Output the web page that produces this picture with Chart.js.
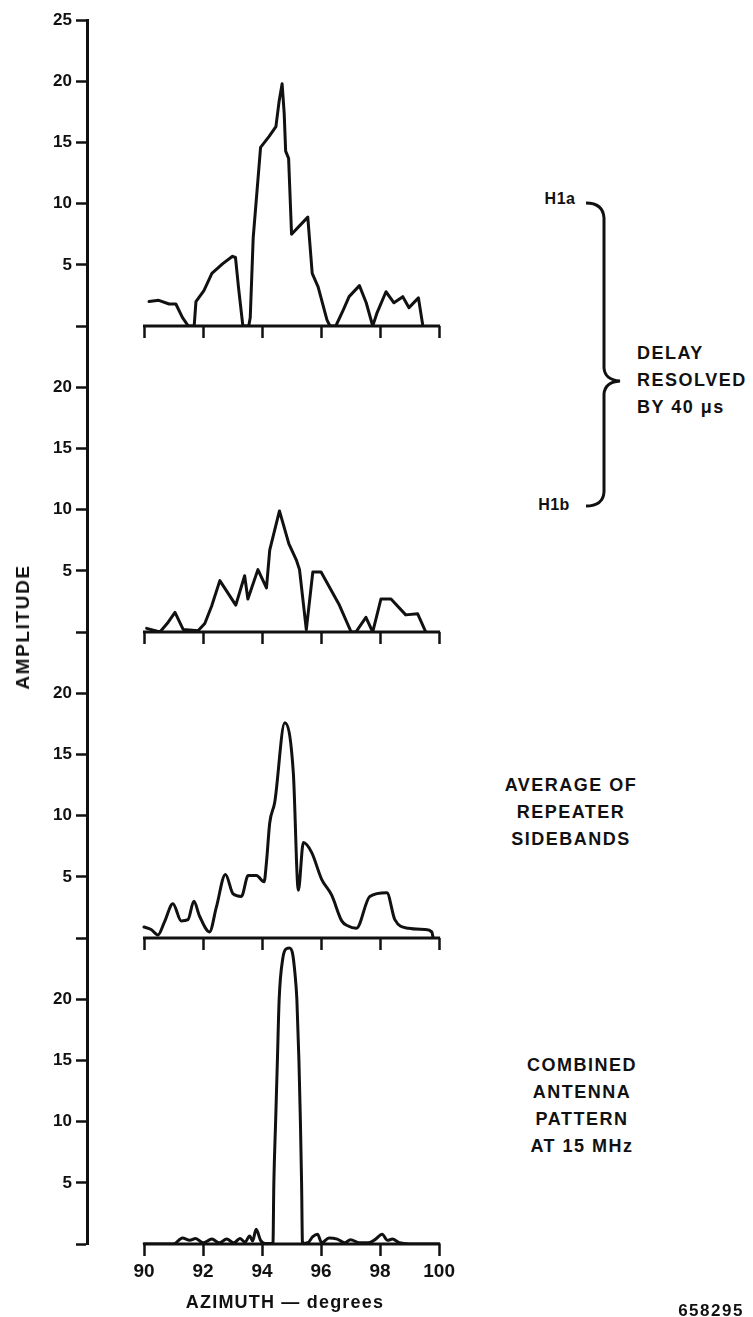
<!DOCTYPE html>
<html>
<head>
<meta charset="utf-8">
<script src="https://cdn.jsdelivr.net/npm/chart.js@4/dist/chart.umd.min.js"></script>
<style>
  body {
    margin: 0;
    width: 753px;
    height: 1317px;
    position: relative;
    overflow: hidden;
    background: #fff;
    color: #111;
    font-family: "Liberation Sans", Arial, sans-serif;
    font-weight: bold;
  }
  canvas { position: absolute; left: 0; }
  .lbl { position: absolute; white-space: nowrap; }
  .mid { transform: translate(-50%, -50%); }
  .block { line-height: 27px; font-size: 18px; letter-spacing: 1.5px; }
  #brace { position: absolute; left: 0; top: 0; pointer-events: none; }
</style>
</head>
<body>

<canvas id="panelH1a"></canvas>
<canvas id="panelH1b"></canvas>
<canvas id="panelAvg"></canvas>
<canvas id="panelAnt"></canvas>

<div class="lbl mid" style="left:23px; top:627px; font-size:19px; letter-spacing:1.6px; transform:translate(-50%,-50%) rotate(-90deg);">AMPLITUDE</div>
<div class="lbl mid" style="left:285px; top:1302px; font-size:18px; letter-spacing:1.2px;">AZIMUTH — degrees</div>

<div class="lbl mid" style="left:560px; top:199px; font-size:16px; letter-spacing:0.5px;">H1a</div>
<div class="lbl mid" style="left:554px; top:505px; font-size:16px; letter-spacing:0.5px;">H1b</div>
<div class="lbl block" style="left:637px; top:340px;">DELAY<br>RESOLVED<br>BY 40 μs</div>
<div class="lbl block" style="left:571px; top:772px; transform:translateX(-50%); text-align:center;">AVERAGE OF<br>REPEATER<br>SIDEBANDS</div>
<div class="lbl block" style="left:582px; top:1052px; transform:translateX(-50%); text-align:center;">COMBINED<br>ANTENNA<br>PATTERN<br>AT 15 MHz</div>
<div class="lbl mid" style="left:711px; top:1311px; font-size:17px; letter-spacing:1.5px;">658295</div>

<svg id="brace" width="753" height="1317">
  <path d="M 586 203 Q 603 203 604 218 L 604 368 Q 605 380 620 381 Q 605 382 604 394 L 604 492 Q 603 506 586 506"
        fill="none" stroke="#111" stroke-width="3"/>
</svg>

<script>
// Azimuth (degrees) and amplitude for each trace
const h1aAz  = [90.17, 90.5, 90.85, 91.08, 91.3, 91.5, 91.7, 91.76, 92.03, 92.3, 92.67, 93.0, 93.1, 93.2, 93.35, 93.55, 93.6, 93.7, 93.95, 94.24, 94.47, 94.58, 94.68, 94.75, 94.8, 94.9, 95.0, 95.55, 95.7, 95.9, 96.2, 96.3, 96.5, 96.75, 96.95, 97.3, 97.53, 97.75, 97.9, 98.2, 98.47, 98.77, 98.98, 99.3, 99.45];
const h1aAmp = [2.0, 2.1, 1.8, 1.8, 0.7, 0, 0, 2.0, 2.9, 4.3, 5.1, 5.7, 5.6, 3.2, 0, 0, 0.7, 7.2, 14.6, 15.5, 16.3, 18.4, 19.8, 17.4, 14.3, 13.7, 7.5, 8.9, 4.3, 3.2, 0.5, 0, 0, 1.3, 2.4, 3.3, 1.9, 0, 1.1, 2.8, 1.9, 2.4, 1.5, 2.3, 0];

const h1bAz  = [90.09, 90.54, 90.82, 91.05, 91.33, 91.83, 92.06, 92.29, 92.57, 93.11, 93.41, 93.52, 93.86, 94.15, 94.26, 94.59, 94.91, 95.16, 95.27, 95.5, 95.72, 96.0, 96.62, 97.02, 97.18, 97.52, 97.75, 98.03, 98.37, 98.87, 99.27, 99.55];
const h1bAmp = [0.3, 0, 0.8, 1.6, 0.2, 0.1, 0.7, 2.1, 4.2, 2.2, 4.6, 2.7, 5.1, 3.6, 6.7, 9.9, 7.2, 5.9, 5.1, 0.2, 4.9, 4.9, 2.2, 0, 0, 1.2, 0, 2.7, 2.7, 1.4, 1.5, 0];

const avgAz  = [90.0, 90.24, 90.47, 90.69, 90.98, 91.26, 91.49, 91.69, 91.88, 92.22, 92.45, 92.76, 93.02, 93.3, 93.53, 93.81, 94.07, 94.15, 94.26, 94.43, 94.77, 95.06, 95.23, 95.4, 95.68, 96.02, 96.36, 96.7, 96.9, 97.2, 97.65, 98.23, 98.5, 98.96, 99.52, 99.75, 99.8];
const avgAmp = [0.9, 0.7, 0.25, 1.3, 2.8, 1.4, 1.5, 3.0, 1.8, 0.5, 2.5, 5.2, 3.6, 3.4, 5.1, 5.1, 4.6, 6.2, 9.4, 11.1, 17.6, 13.5, 3.9, 7.8, 7.0, 4.8, 3.5, 1.4, 1.0, 0.8, 3.4, 3.7, 1.5, 0.8, 0.7, 0.5, 0];

const antAz  = [90.0, 91.0, 91.3, 91.55, 91.75, 92.0, 92.3, 92.55, 92.8, 93.05, 93.25, 93.42, 93.58, 93.68, 93.8, 93.95, 94.1, 94.37, 94.4, 94.46, 94.52, 94.58, 94.7, 94.8, 94.92, 95.03, 95.12, 95.18, 95.25, 95.3, 95.34, 95.37, 95.55, 95.72, 95.88, 96.02, 96.27, 96.55, 96.8, 97.0, 97.3, 97.6, 97.85, 98.07, 98.25, 98.42, 98.65, 99.0, 100.0];
const antAmp = [0, 0, 0.5, 0.3, 0.45, 0.1, 0.4, 0.1, 0.4, 0.1, 0.45, 0.15, 0.65, 0.25, 1.2, 0.3, 0.05, 0.05, 5, 10, 15, 20, 23.3, 24.1, 24.2, 23.8, 22, 20, 15, 10, 5, 0.05, 0.1, 0.6, 0.8, 0.1, 0.5, 0.4, 0.1, 0.35, 0.1, 0.1, 0.4, 0.8, 0.3, 0.4, 0.1, 0, 0];

const azTicks = [90, 92, 94, 96, 98, 100];
const ampMax = 25;

const INK = '#111';
const FONT = '"Liberation Sans", Arial, sans-serif';

// shared geometry of the stacked panels
const AXIS_X = 87;          // where the amplitude axis sits
const PLOT_RIGHT = 445;
const PAD_TOP = 14;
const PANEL_H = 306;
const FIRST_TOP = 20;
const X_MIN = 88.068;
const X_MAX = 100.2;

Chart.defaults.font.family = FONT;
Chart.defaults.color = INK;

// horizontal axis only spans 90..100, so draw it by hand
const baseline = {
    id: 'baseline',
    beforeDatasetsDraw(chart) {
        const { ctx, chartArea, scales } = chart;
        const x = scales.x;
        ctx.save();
        ctx.strokeStyle = INK;
        ctx.lineWidth = 3;
        ctx.beginPath();
        ctx.moveTo(x.getPixelForValue(90) - 1, chartArea.bottom);
        ctx.lineTo(x.getPixelForValue(100) + 1, chartArea.bottom);
        ctx.stroke();
        ctx.restore();
    }
};

function makePanel(id, index, az, amp, opts) {
    const bottom = !!opts.bottom;
    const xHeight = bottom ? 50 : 16;
    const canvas = document.getElementById(id);
    canvas.width = PLOT_RIGHT + 20;
    canvas.height = PAD_TOP + PANEL_H + xHeight;
    canvas.style.top = (FIRST_TOP + index * PANEL_H - PAD_TOP) + 'px';

    new Chart(canvas.getContext('2d'), {
        type: 'line',
        data: {
            datasets: [{
                data: az.map((a, i) => ({ x: a, y: amp[i] })),
                borderColor: INK,
                borderWidth: 3,
                pointRadius: 0,
                fill: false,
                tension: 0,
                cubicInterpolationMode: opts.smooth ? 'monotone' : 'default',
                borderJoinStyle: 'round',
                borderCapStyle: 'round'
            }]
        },
        options: {
            responsive: false,
            animation: false,
            devicePixelRatio: 1,
            events: [],
            layout: { padding: { top: PAD_TOP, left: 0, right: 20, bottom: 0 } },
            plugins: { legend: { display: false }, tooltip: { enabled: false } },
            scales: {
                x: {
                    type: 'linear',
                    bounds: 'data',
                    min: X_MIN,
                    max: X_MAX,
                    border: { display: false },
                    grid: {
                        drawOnChartArea: false,
                        drawTicks: true,
                        tickLength: 12,
                        tickWidth: 2.5,
                        tickColor: INK
                    },
                    ticks: {
                        display: bottom,
                        padding: 4,
                        maxRotation: 0,
                        font: { size: 19, weight: 'bold' }
                    },
                    afterBuildTicks: s => { s.ticks = azTicks.map(v => ({ value: v })); },
                    afterFit: s => { s.height = xHeight; }
                },
                y: {
                    min: 0,
                    max: ampMax,
                    border: { display: true, width: 3, color: INK },
                    grid: {
                        drawOnChartArea: false,
                        drawTicks: true,
                        tickLength: 11,
                        tickWidth: 2.5,
                        tickColor: INK
                    },
                    ticks: {
                        stepSize: 5,
                        padding: 4,
                        font: { size: 17, weight: 'bold' },
                        callback: v => {
                            if (v === 0) return '';
                            if (v === ampMax && index > 0) return null;
                            return v;
                        }
                    },
                    afterFit: s => { s.width = AXIS_X; }
                }
            }
        },
        plugins: [baseline]
    });
}

makePanel('panelH1a', 0, h1aAz, h1aAmp, {});
makePanel('panelH1b', 1, h1bAz, h1bAmp, {});
makePanel('panelAvg', 2, avgAz, avgAmp, { smooth: true });
makePanel('panelAnt', 3, antAz, antAmp, { smooth: true, bottom: true });
</script>
</body>
</html>
